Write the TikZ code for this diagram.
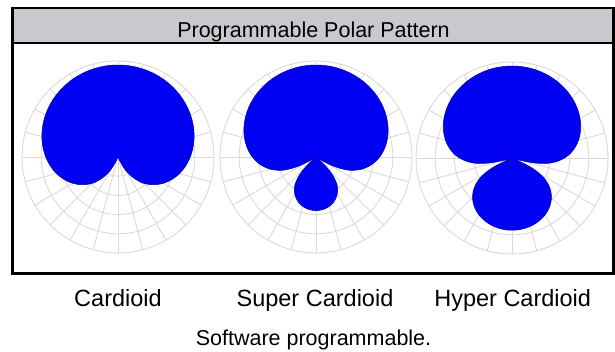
\documentclass[tikz,border=0pt]{standalone}
\usepackage{fontspec}
\setmainfont{Liberation Sans}
\usepackage{tikz}
\definecolor{hdrgray}{RGB}{200,201,204}
\definecolor{gridgray}{RGB}{218,218,218}
\definecolor{lobeblue}{RGB}{0,0,242}
\tikzstyle{every node}=[inner sep=0pt,anchor=base]
\tikzstyle{frame}=[line width=2.2pt,black]
\tikzstyle{grid}=[gridgray,line width=0.9pt]
\tikzstyle{lobe}=[fill=lobeblue,draw=lobeblue!70!black,line width=0.5pt]
\tikzstyle{caption}=[font=\fontsize{23.5}{28}\selectfont]
\tikzstyle{heading}=[font=\fontsize{21.5}{26}\selectfont]
% #1,#2 centre, #3 omni part, #4 figure-eight part
\newcommand{\polarplot}[4]{
  \foreach \rr in {19.2,38.4,57.6,76.8,96} \draw[grid] (#1,#2) circle (\rr);
  \foreach \aa in {0,15,...,345} \draw[grid] (#1,#2) -- ++(\aa:96);
  \fill[lobe] plot[domain=0:360,samples=361,variable=\t]
    ({#1+92*lvl(#3+#4*cos(\t))*sin(\t)},{#2-92*lvl(#3+#4*cos(\t))*cos(\t)}) -- cycle;
}

\begin{document}
\begin{tikzpicture}[x=1pt,y=-1pt,
    declare function={lvl(\p)=max(0,1+8.6859*ln(max(abs(\p),0.0001))/28);}]
    \useasboundingbox (0,0) rectangle (615,351);
    \fill[white] (0,0) rectangle (615,351);
    % frame and header
    \fill[hdrgray] (12.5,8) rectangle (613.5,43);
    \draw[frame] (12.5,8) rectangle (613.5,273.5);
    \draw[frame] (12.5,43) -- (613.5,43);
    \node[heading] (title) at (313.5,37) {Programmable Polar Pattern};
    % the three patterns
    \polarplot{118}{157}{0.5}{0.5}
    \polarplot{316}{157}{0.37}{0.63}
    \polarplot{512}{158}{0.25}{0.75}
    \node[caption] (cardioid) at (118,306.7) {Cardioid};
    \node[caption] (super) at (315,306.7) {Super Cardioid};
    \node[caption] (hyper) at (512.7,306.7) {Hyper Cardioid};
    \node[heading] (soft) at (313.5,345) {Software programmable.};
\end{tikzpicture}
\end{document}
